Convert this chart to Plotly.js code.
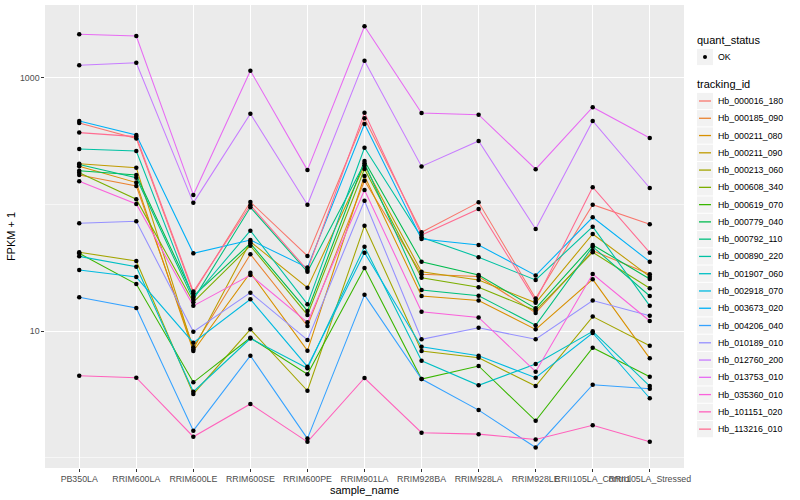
<!DOCTYPE html>
<html>
<head>
<meta charset="utf-8">
<script src="https://cdn.plot.ly/plotly-3.0.1.min.js"></script>
<style>html,body{margin:0;padding:0;background:#fff;}#chart{width:800px;height:500px;}</style>
</head>
<body>
<div id="chart"></div>
<script>
// categories (x axis)
const sampleNames = ["PB350LA","RRIM600LA","RRIM600LE","RRIM600SE","RRIM600PE","RRIM901LA","RRIM928BA","RRIM928LA","RRIM928LE","RRII105LA_Control","RRII105LA_Stressed"];

// series: FPKM + 1 per sample
const Hb_000016_180 = [441, 333, 19.9, 104.7, 39.2, 480, 60.3, 104, 18.1, 99.6, 69.7];
const Hb_000185_090 = [171, 140, 7.43, 40.4, 10.96, 154, 28.1, 27.0, 13.9, 43.1, 28.1];
const Hb_000211_080 = [201, 149, 6.95, 28.9, 6.99, 168, 18.9, 17.4, 10.3, 25.6, 6.08];
const Hb_000211_090 = [210, 195, 7.17, 50.8, 22.0, 203, 29.4, 25.3, 16.7, 58.5, 26.9];
const Hb_000213_060 = [41.9, 35.8, 3.18, 10.3, 3.37, 68.0, 6.95, 6.15, 3.67, 13.0, 7.65];
const Hb_000608_340 = [178, 110, 16.9, 47.2, 13.4, 191, 26.4, 22.2, 14.5, 41.9, 21.8];
const Hb_000619_070 = [41.1, 23.5, 3.93, 8.85, 4.55, 31.5, 4.17, 5.29, 1.95, 7.38, 4.35];
const Hb_000779_040 = [185, 171, 18.9, 49.3, 14.4, 221, 35.3, 27.7, 15.1, 47.9, 25.8];
const Hb_000792_110 = [207, 163, 17.7, 95.0, 29.4, 212, 21.1, 19.0, 11.1, 46.4, 18.9];
const Hb_000890_220 = [275, 265, 18.3, 62.1, 16.3, 281, 55.1, 38.3, 25.3, 66.8, 15.8];
const Hb_001907_060 = [38.9, 32.2, 3.31, 8.72, 5.07, 46.4, 5.82, 3.72, 5.48, 9.94, 3.67];
const Hb_002918_070 = [30.3, 26.7, 8.08, 17.8, 5.22, 41.6, 7.51, 6.38, 4.27, 9.64, 2.94];
const Hb_003673_020 = [457, 354, 41.1, 52.4, 31.7, 433, 53.4, 47.9, 27.5, 79.2, 35.3];
const Hb_004206_040 = [18.5, 15.2, 1.63, 6.38, 1.41, 19.3, 4.17, 2.37, 1.20, 3.76, 3.50];
const Hb_010189_010 = [71.0, 73.6, 9.87, 20.1, 8.49, 107, 8.60, 10.6, 8.60, 17.4, 13.2];
const Hb_012760_200 = [1260, 1321, 103, 522, 99.6, 1371, 200, 318, 64.0, 457, 135];
const Hb_013753_010 = [2214, 2148, 119, 1142, 187, 2564, 529, 513, 190, 587, 336];
const Hb_035360_010 = [153, 101, 15.8, 27.7, 11.7, 130, 14.2, 12.8, 4.77, 28.2, 12.0];
const Hb_101151_020 = [4.43, 4.27, 1.46, 2.65, 1.33, 4.25, 1.57, 1.53, 1.39, 1.80, 1.33];
const Hb_113216_010 = [370, 344, 20.5, 98.6, 30.3, 532, 57.4, 92.1, 17.3, 137, 41.6];

const trackingIds = ["Hb_000016_180","Hb_000185_090","Hb_000211_080","Hb_000211_090","Hb_000213_060","Hb_000608_340","Hb_000619_070","Hb_000779_040","Hb_000792_110","Hb_000890_220","Hb_001907_060","Hb_002918_070","Hb_003673_020","Hb_004206_040","Hb_010189_010","Hb_012760_200","Hb_013753_010","Hb_035360_010","Hb_101151_020","Hb_113216_010"];
const seriesValues = [Hb_000016_180,Hb_000185_090,Hb_000211_080,Hb_000211_090,Hb_000213_060,Hb_000608_340,Hb_000619_070,Hb_000779_040,Hb_000792_110,Hb_000890_220,Hb_001907_060,Hb_002918_070,Hb_003673_020,Hb_004206_040,Hb_010189_010,Hb_012760_200,Hb_013753_010,Hb_035360_010,Hb_101151_020,Hb_113216_010];
const quantStatus = ["OK"];
const yTickVals = [10, 1000];
const yTickText = ["10", "1000"];
const yMinorGrid = [1, 100];

const colors = ["#F8766D","#EA8331","#D89000","#C09B00","#A3A500","#7CAE00","#39B600","#00BB4E","#00BF7D","#00C1A3","#00BFC4","#00BAE0","#00B0F6","#35A2FF","#9590FF","#C77CFF","#E76BF3","#FA62DB","#FF62BC","#FF6C91"];

const font = "Liberation Sans, Arial, sans-serif";
const W = 800, H = 500, M = {l: 45, r: 116, t: 5, b: 32};
const PW = W - M.l - M.r, PH = H - M.t - M.b;
const pxX = p => (p - M.l) / PW;        // page pixel -> paper x
const pxY = p => 1 - (p - M.t) / PH;    // page pixel -> paper y

const traces = [];
trackingIds.forEach((id, i) => {
  traces.push({
    type: "scatter", mode: "lines", name: id,
    x: sampleNames, y: seriesValues[i],
    line: {color: colors[i], width: 1.07},
    showlegend: false, hoverinfo: "name+y"
  });
});
const px = [], py = [];
seriesValues.forEach(vals => vals.forEach((v, j) => { px.push(sampleNames[j]); py.push(v); }));
traces.push({
  type: "scatter", mode: "markers", name: quantStatus[0],
  x: px, y: py,
  marker: {color: "#000", size: 4.5, symbol: "circle"},
  showlegend: false
});

// minor grid lines
const shapes = yMinorGrid.map(v => ({
  type: "line", xref: "paper", x0: 0, x1: 1, yref: "y", y0: v, y1: v,
  line: {color: "#FFFFFF", width: 0.55}, layer: "below"
}));

// ggplot-style legend (keys + labels)
const annotations = [];
const keyL = 697, keyR = 713, keyH = 17.27, textX = 716;
annotations.push({xref: "paper", yref: "paper", x: pxX(695), y: pxY(40), xanchor: "left", yanchor: "middle",
  text: "quant_status", showarrow: false, font: {size: 11, color: "#000", family: font}});
const okY = 57;
shapes.push({type: "rect", xref: "paper", yref: "paper", x0: pxX(keyL), x1: pxX(keyR),
  y0: pxY(okY - keyH / 2 + 0.5), y1: pxY(okY + keyH / 2 - 0.5), fillcolor: "#F2F2F2", line: {width: 0}});
shapes.push({type: "circle", xref: "paper", yref: "paper", x0: pxX(703), x1: pxX(707),
  y0: pxY(okY - 2), y1: pxY(okY + 2), fillcolor: "#000", line: {width: 0}});
annotations.push({xref: "paper", yref: "paper", x: pxX(textX), y: pxY(okY), xanchor: "left", yanchor: "middle",
  text: quantStatus[0], showarrow: false, font: {size: 8.8, color: "#000", family: font}});
annotations.push({xref: "paper", yref: "paper", x: pxX(695), y: pxY(84), xanchor: "left", yanchor: "middle",
  text: "tracking_id", showarrow: false, font: {size: 11, color: "#000", family: font}});
trackingIds.forEach((id, i) => {
  const cy = 101 + i * keyH;
  shapes.push({type: "rect", xref: "paper", yref: "paper", x0: pxX(keyL), x1: pxX(keyR),
    y0: pxY(cy - keyH / 2 + 0.5), y1: pxY(cy + keyH / 2 - 0.5), fillcolor: "#F2F2F2", line: {width: 0}});
  shapes.push({type: "line", xref: "paper", yref: "paper", x0: pxX(699), x1: pxX(711),
    y0: pxY(cy), y1: pxY(cy), line: {color: colors[i], width: 1.3}});
  annotations.push({xref: "paper", yref: "paper", x: pxX(textX), y: pxY(cy), xanchor: "left", yanchor: "middle",
    text: id, showarrow: false, font: {size: 8.8, color: "#000", family: font}});
});

const layout = {
  width: W, height: H,
  margin: M,
  paper_bgcolor: "#FFFFFF", plot_bgcolor: "#EBEBEB",
  font: {family: font, size: 9, color: "#000"},
  showlegend: false,
  xaxis: {
    type: "category", range: [-0.6, 10.6],
    showgrid: true, gridcolor: "#FFFFFF", gridwidth: 1.07,
    zeroline: false, showline: false,
    ticks: "outside", ticklen: 2.7, tickcolor: "#333333", tickwidth: 1,
    tickangle: 0, tickfont: {size: 8.8, color: "#4D4D4D", family: font},
    title: {text: "sample_name", font: {size: 11, color: "#000", family: font}, standoff: 2}
  },
  yaxis: {
    type: "log", range: [-0.083, 3.577],
    tickvals: yTickVals, ticktext: yTickText,
    showgrid: true, gridcolor: "#FFFFFF", gridwidth: 1.07,
    zeroline: false, showline: false,
    ticks: "outside", ticklen: 2.7, tickcolor: "#333333", tickwidth: 1,
    tickfont: {size: 8.8, color: "#4D4D4D", family: font},
    title: {text: "FPKM + 1", font: {size: 11, color: "#000", family: font}, standoff: 2}
  },
  shapes: shapes,
  annotations: annotations
};

Plotly.newPlot("chart", traces, layout, {displayModeBar: false, responsive: false});
</script>
</body>
</html>
